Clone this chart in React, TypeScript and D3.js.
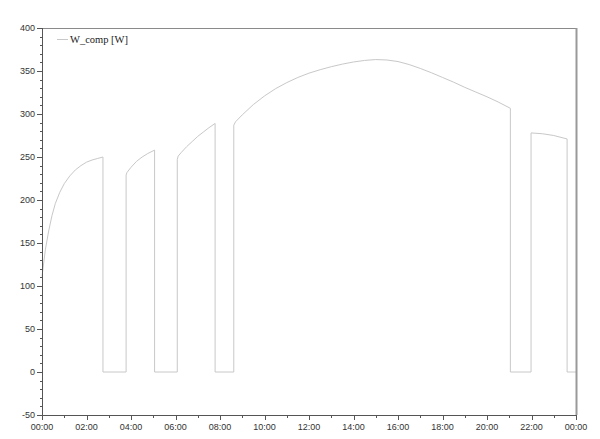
import React from "react";
import * as d3 from "d3";

// time in hours, compressor power in W
const times = [
  0, 0.15, 0.3, 0.45, 0.6, 0.8, 1.0, 1.25, 1.5, 1.75, 2.0, 2.25, 2.5, 2.74,
  2.74, 3.78,
  3.78, 3.82, 4.0, 4.25, 4.5, 4.75, 5.06,
  5.06, 6.08,
  6.08, 6.12, 6.25, 6.5, 6.75, 7.0, 7.25, 7.5, 7.78,
  7.78, 8.62,
  8.62, 8.7, 9.0, 9.5, 10.0, 10.5, 11.0, 11.5, 12.0, 12.5, 13.0, 13.5, 14.0, 14.5, 15.0, 15.5, 16.0, 16.5, 17.0, 17.5, 18.0, 18.5, 19.0, 19.5, 20.0, 20.5, 21.05,
  21.05, 21.98,
  21.98, 22.5, 23.0, 23.6,
  23.6, 24,
];
const watts = [
  111, 142, 164, 182, 196, 209, 219, 228, 235, 240, 244, 246.5, 248.3, 250,
  0, 0,
  229, 232, 238, 245, 250, 254, 258,
  0, 0,
  247, 251, 255, 262, 268, 274, 279, 284, 289,
  0, 0,
  287, 291, 299, 311, 321, 329.5, 336.5, 342.5, 347.5, 351.5, 355, 358, 360.5, 362.3, 363.3, 362.8, 361, 357.5, 353, 348, 342.5, 337, 331, 325.5, 320, 314, 306.6,
  0, 0,
  278, 277, 275, 271,
  0, 0,
];

const xTickHours = [0, 2, 4, 6, 8, 10, 12, 14, 16, 18, 20, 22, 24];
const xTickLabels = ["00:00", "02:00", "04:00", "06:00", "08:00", "10:00", "12:00", "14:00", "16:00", "18:00", "20:00", "22:00", "00:00"];
const xMinorHours = [1, 3, 5, 7, 9, 11, 13, 15, 17, 19, 21, 23];
const yTicks = [-50, 0, 50, 100, 150, 200, 250, 300, 350, 400];
const seriesName = "W_comp [W]";

export default function App() {
  const W = 600, H = 439;
  const left = 42, right = 576, top = 28, bottom = 415;
  const x = d3.scaleLinear().domain([0, 24]).range([left, right]);
  const y = d3.scaleLinear().domain([-50, 400]).range([bottom, top]);
  const yMinor = d3.range(-50, 400, 10).filter((v) => v % 50 !== 0);
  const pts = times.map((t, i) => [t, watts[i]] as [number, number]);
  const line = d3.line<[number, number]>().x((d) => x(d[0])).y((d) => y(d[1]));
  const tickFont = "'Liberation Sans', Arial, sans-serif";
  return (
    <svg width={W} height={H} style={{ position: "absolute", left: 0, top: 0, background: "#fff" }}>
      <rect x={0} y={0} width={W} height={H} fill="#fff" />
      <path d={line(pts) || ""} fill="none" stroke="#c8c8c8" strokeWidth={1} />
      {/* frame */}
      <line x1={left} x2={right} y1={top + 0.5} y2={top + 0.5} stroke="#8a8a8a" strokeWidth={1} />
      <line x1={right + 0.5} x2={right + 0.5} y1={top} y2={bottom} stroke="#999" strokeWidth={2} />
      <line x1={left + 0.5} x2={left + 0.5} y1={top} y2={bottom + 1} stroke="#555" strokeWidth={1} />
      <line x1={left} x2={right + 1} y1={bottom + 0.5} y2={bottom + 0.5} stroke="#555" strokeWidth={1} />
      {/* y ticks */}
      {yTicks.map((v) => (
        <g key={"y" + v}>
          <line x1={left - 5} x2={left} y1={Math.round(y(v)) + 0.5} y2={Math.round(y(v)) + 0.5} stroke="#555" />
          <text x={35} y={y(v)} dy="0.35em" textAnchor="end" fontFamily={tickFont} fontSize={9} fill="#333">
            {v}
          </text>
        </g>
      ))}
      {yMinor.map((v) => (
        <line key={"ym" + v} x1={left - 2} x2={left + 1} y1={Math.round(y(v)) + 0.5} y2={Math.round(y(v)) + 0.5} stroke="#555" />
      ))}
      {/* x ticks */}
      {xTickHours.map((h, i) => (
        <g key={"x" + i}>
          <line x1={Math.round(x(h)) + 0.5} x2={Math.round(x(h)) + 0.5} y1={bottom} y2={bottom + 5} stroke="#555" />
          <text x={x(h)} y={430} textAnchor="middle" fontFamily={tickFont} fontSize={9} fill="#333">
            {xTickLabels[i]}
          </text>
        </g>
      ))}
      {xMinorHours.map((h) => (
        <line key={"xm" + h} x1={Math.round(x(h)) + 0.5} x2={Math.round(x(h)) + 0.5} y1={bottom} y2={bottom + 3} stroke="#555" />
      ))}
      {/* legend */}
      <line x1={57} x2={68} y1={39.5} y2={39.5} stroke="#c8c8c8" />
      <text x={70} y={43} fontFamily="'Liberation Serif', 'Times New Roman', serif" fontSize={10.5} fill="#222">
        {seriesName}
      </text>
    </svg>
  );
}
